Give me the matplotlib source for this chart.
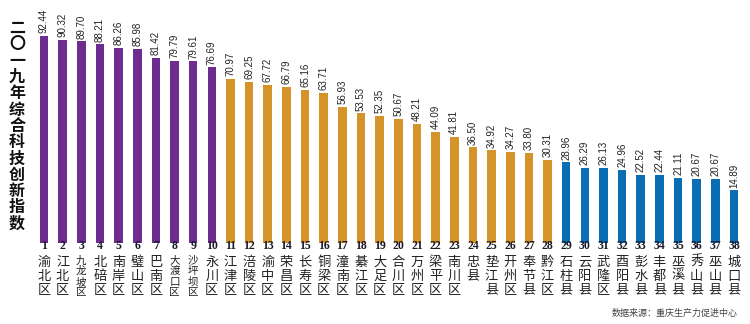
import numpy as np
import matplotlib.pyplot as plt

plt.rcParams['font.family'] = ['Noto Sans CJK SC', 'DejaVu Sans']

districts = ["渝北区", "江北区", "九龙坡区", "北碚区", "南岸区", "璧山区", "巴南区",
             "大渡口区", "沙坪坝区", "永川区", "江津区", "涪陵区", "渝中区", "荣昌区",
             "长寿区", "铜梁区", "潼南区", "綦江区", "大足区", "合川区", "万州区",
             "梁平区", "南川区", "忠县", "垫江县", "开州区", "奉节县", "黔江区",
             "石柱县", "云阳县", "武隆区", "酉阳县", "彭水县", "丰都县", "巫溪县",
             "秀山县", "巫山县", "城口县"]
scores = [92.44, 90.32, 89.70, 88.21, 86.26, 85.98, 81.42, 79.79, 79.61, 76.69,
          70.97, 69.25, 67.72, 66.79, 65.16, 63.71, 56.93, 53.53, 52.35, 50.67,
          48.21, 44.09, 41.81, 36.50, 34.92, 34.27, 33.80, 30.31,
          28.96, 26.29, 26.13, 24.96, 22.52, 22.44, 21.11, 20.67, 20.67, 14.89]
group_sizes = [10, 18, 10]
group_colors = ["#6E2C90", "#D4942A", "#0B6DB3"]

title = "二〇一九年综合科技创新指数"
source = "数据来源：重庆生产力促进中心"

base = -11.6  # bars start below zero in the original graphic

colors = []
for n, c in zip(group_sizes, group_colors):
    colors += [c] * n

x = np.arange(len(scores))
vals = np.array(scores)

fig = plt.figure(figsize=(7.5, 3.24), dpi=100)
ax = fig.add_axes([32.8 / 750, 81 / 324, 712.4 / 750, 243 / 324])
ax.bar(x, vals - base, bottom=base, width=0.46, color=colors)
ax.set_xlim(-0.6, len(scores) - 0.4)
ax.set_ylim(base, base + 243 / 1.99)
ax.axis("off")

for i, v in enumerate(vals):
    ax.annotate(f"{v:.2f}", (x[i], v), xytext=(0, 2), textcoords="offset points",
                rotation=90, ha="center", va="bottom", fontsize=7,
                family="Liberation Sans", color="#222222")
    # rank number at bar foot
    ax.annotate(str(i + 1), (x[i], 0), xycoords=("data", "axes fraction"),
                xytext=(0, 2), textcoords="offset points", ha="center", va="top",
                fontsize=8.5, family="Liberation Serif", fontweight="bold",
                color="#1a1a2a")
    # district name, one character per row
    name = districts[i]
    if len(name) == 4:
        fs, pitch, first = 7.6, 7.7, -12.5
    else:
        fs, pitch, first = 9.5, 10.1, -13.7
    for k, ch in enumerate(name):
        ax.annotate(ch, (x[i], 0), xycoords=("data", "axes fraction"),
                    xytext=(0, first - k * pitch), textcoords="offset points",
                    ha="center", va="center", fontsize=fs, color="#222222")

for k, ch in enumerate(title):
    fig.text(17 / 750, 1 - (28 + k * 16.3) / 324, ch, ha="center", va="center",
             fontsize=11.5, fontweight="bold", color="#111111")

fig.text(738 / 750, 1 - 313 / 324, source, ha="right", va="center",
         fontsize=6.5, color="#444444")

fig.savefig("out.png", dpi=100)
